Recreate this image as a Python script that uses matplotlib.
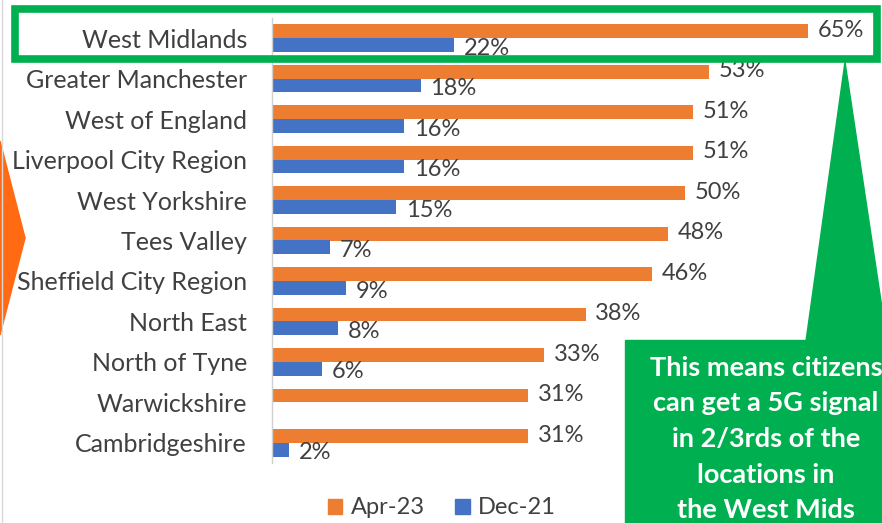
import numpy as np
import matplotlib
matplotlib.use("Agg")
import matplotlib.pyplot as plt
import matplotlib.patches as mpatches
from matplotlib.lines import Line2D

plt.rcParams['font.family'] = ['Lato', 'DejaVu Sans']

regions = ["West Midlands", "Greater Manchester", "West of England",
           "Liverpool City Region", "West Yorkshire", "Tees Valley",
           "Sheffield City Region", "North East", "North of Tyne",
           "Warwickshire", "Cambridgeshire"]
apr23 = [65, 53, 51, 51, 50, 48, 46, 38, 33, 31, 31]
dec21 = [22, 18, 16, 16, 15, 7, 9, 8, 6, 0, 2]
series_names = ["Apr-23", "Dec-21"]
note = "This means citizens\ncan get a 5G signal\nin 2/3rds of the\nlocations in\nthe West Mids"

ORANGE = "#ED7D31"
BLUE = "#4472C4"
GREEN = "#00B050"
TXT = "#404040"

W, H = 882, 523
fig = plt.figure(figsize=(W / 100, H / 100), dpi=100)


def fx(x):
    return x / W


def fy(y):
    return 1 - y / H


# axes: x from 272 to 882 px, y from 18 to 463 px
ax = fig.add_axes([fx(272), fy(463), fx(882) - fx(272), fy(18) - fy(463)])
y = np.arange(len(regions))
h = 0.34
ax.barh(y - h / 2, apr23, height=h, color=ORANGE)
ax.barh(y + h / 2, dec21, height=h, color=BLUE)
ax.set_xlim(0, 610 / 8.25)
ax.set_ylim(len(regions) - 0.5, -0.5)

for i, v in enumerate(apr23):
    ax.text(v + 1.2, i - h / 2 - 0.02, f"{v}%", va="center", ha="left",
            fontsize=17, color=TXT)
for i, v in enumerate(dec21):
    if v > 0:
        ax.text(v + 1.2, i + h / 2 + 0.08, f"{v}%", va="center", ha="left",
                fontsize=17, color=TXT)

ax.set_yticks(y)
ax.set_yticklabels(regions, fontsize=18, color=TXT)
ax.tick_params(axis="y", length=0, pad=18)
ax.set_xticks([])
for s in ["top", "right", "bottom"]:
    ax.spines[s].set_visible(False)
ax.spines["left"].set_color("#D0D0D0")
ax.spines["left"].set_linewidth(1)

# legend
handles = [mpatches.Patch(color=ORANGE), mpatches.Patch(color=BLUE)]
fig.legend(handles, series_names, loc="center", bbox_to_anchor=(fx(442), fy(508)),
           ncol=2, frameon=False, fontsize=17, handlelength=0.6, handleheight=0.6,
           handletextpad=0.35, columnspacing=1.3, labelcolor=TXT)

# left orange arrow shape
fig.add_artist(mpatches.Polygon([(fx(0), fy(141)), (fx(25), fy(238)), (fx(0), fy(335))],
                                closed=True, color="#FF6A13", transform=fig.transFigure))
fig.add_artist(Line2D([fx(2), fx(2)], [0, 1], color="#D8D8D8", lw=1,
                      transform=fig.transFigure))

# green highlight frame around the West Midlands row
fig.add_artist(mpatches.Rectangle((fx(15), fy(59)), fx(877) - fx(15), fy(9) - fy(59),
                                  fill=False, ec=GREEN, lw=5.5, transform=fig.transFigure))

# green callout box and pointer
fig.add_artist(mpatches.Polygon([(fx(806), fy(341)), (fx(845), fy(62)), (fx(887), fy(341))],
                                closed=True, color=GREEN, transform=fig.transFigure))
fig.add_artist(mpatches.Rectangle((fx(625), 0), 1 - fx(625) + 0.01, fy(340),
                                  color=GREEN, transform=fig.transFigure))
fig.text(fx(766), fy(439), note, ha="center", va="center", color="white",
         fontsize=19.5, fontweight="bold", linespacing=1.58)

fig.savefig("out.png", dpi=100)
